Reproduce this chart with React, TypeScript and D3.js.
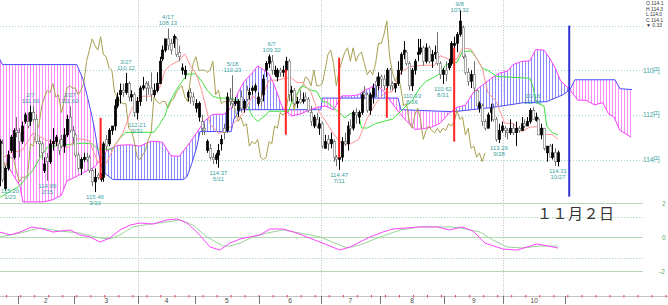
import React from "react";
import * as d3 from "d3";

const W = 668;
const H = 305;

// Daily candles [open, high, low, close], trading days Jan 23 – Oct 27
const candles: [number, number, number, number][] = [
  [114.6, 115.2, 113.1, 113.2], [113.3, 115.0, 113.1, 114.9], [115.3, 115.4, 114.3, 114.4], [114.4, 114.5, 113.6, 113.8],
  [113.6, 113.7, 112.9, 113.0], [113.9, 114.0, 112.6, 112.7], [112.7, 113.0, 112.1, 112.8],
  [112.8, 113.9, 112.6, 113.2], [113.2, 113.3, 112.3, 112.5], [112.3, 112.4, 111.9, 112.0], [112.3, 112.6, 111.9, 112.5],
  [112.3, 112.5, 111.59, 111.9], [111.9, 112.3, 111.6, 112.2], [112.2, 113.3, 112.0, 113.2], [113.2, 113.9, 113.0, 113.3],
  [113.3, 114.0, 113.2, 113.7], [114.5, 114.6, 113.9, 114.2], [113.9, 114.95, 113.7, 114.1], [114.1, 114.2, 113.1, 113.3],
  [113.3, 113.6, 112.6, 113.2], [113.2, 113.4, 112.9, 113.0], [113.3, 113.8, 113.1, 113.6], [113.1, 113.5, 112.9, 113.4],
  [113.4, 113.7, 112.6, 112.9], [112.9, 113.0, 112.0, 112.2], [112.1, 112.8, 111.62, 112.7], [112.7, 113.3, 112.5, 113.0],
  [112.9, 113.9, 112.8, 113.8], [113.8, 114.5, 113.7, 114.4], [114.4, 114.7, 113.9, 114.0], [114.0, 114.1, 113.7, 113.9],
  [113.9, 114.1, 113.7, 114.0], [113.9, 114.6, 113.8, 114.5], [114.5, 115.2, 114.4, 115.0], [115.0, 115.46, 114.4, 114.8],
  [114.7, 114.9, 114.6, 114.8], [114.9, 115.0, 114.6, 114.7], [114.8, 115.0, 113.2, 113.3], [113.1, 113.6, 112.9, 113.4],
  [113.3, 113.4, 112.6, 112.7], [112.7, 112.9, 112.5, 112.5], [112.5, 112.7, 111.3, 111.6], [111.6, 111.7, 111.0, 111.2],
  [111.1, 111.5, 110.6, 110.9], [110.9, 111.2, 110.6, 111.0], [111.0, 111.1, 110.12, 110.6], [110.6, 111.4, 110.5, 111.2],
  [111.2, 111.4, 110.9, 111.1], [111.1, 112.1, 111.0, 111.9], [111.9, 112.21, 111.2, 111.4],
  [111.4, 111.6, 110.7, 110.8], [110.8, 110.9, 110.3, 110.7], [110.6, 111.4, 110.5, 110.8], [110.7, 111.1, 110.5, 110.8],
  [110.8, 111.4, 110.1, 111.1], [111.1, 111.2, 110.6, 110.9], [110.9, 111.0, 110.1, 110.6], [110.6, 110.6, 109.4, 109.6],
  [109.5, 109.6, 108.9, 109.1], [109.1, 109.2, 108.6, 108.6], [108.6, 109.1, 108.13, 108.9], [108.8, 109.3, 108.6, 109.1],
  [108.8, 109.0, 108.4, 108.5], [108.6, 109.4, 108.5, 109.3], [109.2, 109.6, 108.9, 109.4], [110.0, 110.2, 109.7, 109.9],
  [110.2, 110.4, 109.8, 110.0], [111.2, 111.4, 110.9, 111.0], [111.0, 111.5, 110.8, 111.2], [111.2, 111.6, 111.0, 111.4],
  [111.7, 111.9, 111.3, 111.5], [112.1, 112.3, 111.4, 111.5], [112.3, 112.9, 112.0, 112.6], [112.6, 112.9, 112.4, 112.7],
  [113.6, 113.7, 113.1, 113.2], [113.5, 114.0, 113.3, 113.9], [113.9, 114.2, 113.7, 114.0], [114.0, 114.2, 113.7, 113.8],
  [113.8, 114.37, 113.3, 113.6], [113.3, 113.6, 112.9, 113.1], [112.6, 113.1, 112.4, 112.8], [112.7, 112.8, 111.0, 111.2],
  [111.3, 111.6, 110.8, 111.4], [111.4, 111.7, 110.23, 111.5], [111.5, 111.6, 111.2, 111.4], [111.8, 112.1, 111.3, 111.4],
  [111.2, 111.9, 110.9, 111.7], [111.7, 111.9, 111.3, 111.4], [110.9, 111.4, 110.7, 111.3], [111.1, 111.3, 110.8, 111.0],
  [110.9, 111.1, 110.7, 110.8], [110.9, 111.0, 110.6, 110.7], [111.5, 111.6, 111.0, 111.2],
  [111.3, 111.6, 110.9, 111.4], [111.1, 111.4, 110.2, 110.4], [110.0, 110.3, 109.6, 109.7], [109.7, 109.9, 109.3, 109.4],
  [109.6, 110.2, 109.32, 110.0], [110.2, 110.3, 109.8, 110.0], [110.3, 110.5, 109.9, 110.0], [110.0, 110.3, 109.9, 110.1],
  [110.1, 110.3, 109.8, 110.0], [110.0, 110.1, 109.4, 109.6], [109.6, 111.4, 109.5, 111.1], [111.0, 111.4, 110.7, 110.9],
  [110.9, 111.6, 110.8, 111.5], [111.5, 111.7, 111.2, 111.4], [111.3, 111.5, 110.9, 111.45], [111.4, 111.5, 111.0, 111.3],
  [111.2, 111.4, 111.0, 111.3], [111.3, 111.9, 111.2, 111.8], [111.9, 112.5, 111.6, 112.3], [112.5, 112.6, 112.0, 112.1],
  [112.2, 112.6, 111.9, 112.5], [112.6, 112.9, 112.1, 112.4],
  [112.4, 113.5, 112.3, 113.4], [113.5, 113.5, 112.9, 113.2], [113.1, 113.6, 112.9, 113.3], [113.3, 113.5, 112.8, 113.1],
  [113.2, 114.1, 113.1, 113.9], [113.9, 114.3, 113.8, 114.0], [114.0, 114.47, 113.7, 113.9], [113.9, 114.1, 113.0, 113.2],
  [113.2, 113.4, 112.8, 113.3], [113.3, 113.6, 112.3, 112.5], [112.5, 112.9, 112.2, 112.6], [112.6, 112.7, 111.8, 111.9],
  [111.9, 112.4, 111.7, 112.0], [112.1, 112.4, 111.8, 111.9], [111.9, 112.0, 111.0, 111.1], [111.0, 111.3, 110.7, 111.1],
  [111.1, 111.9, 111.0, 111.8], [111.8, 112.0, 111.0, 111.1], [111.2, 111.5, 110.6, 110.8], [110.5, 111.2, 110.3, 110.7],
  [110.7, 110.9, 110.1, 110.3],
  [110.3, 110.8, 110.2, 110.4], [110.4, 110.9, 110.2, 110.7], [110.7, 110.9, 109.9, 110.0], [110.0, 110.9, 109.9, 110.7],
  [110.6, 110.9, 110.5, 110.7], [110.8, 111.0, 110.6, 110.6], [110.6, 110.7, 109.6, 110.0], [110.0, 110.2, 109.2, 109.3],
  [109.3, 109.5, 108.7, 109.1], [109.2, 109.8, 109.1, 109.7], [109.7, 110.9, 109.6, 110.7], [110.7, 110.93, 109.9, 110.0],
  [110.0, 110.2, 109.5, 109.6], [109.3, 109.6, 108.6, 109.2], [109.2, 109.3, 108.6, 109.0], [109.0, 109.8, 108.9, 109.6],
  [109.6, 109.7, 108.8, 109.0], [109.0, 109.7, 108.9, 109.6], [109.6, 109.9, 109.1, 109.3], [109.3, 109.5, 108.9, 109.2],
  [109.2, 109.8, 108.3, 109.7], [109.7, 110.4, 109.6, 110.2], [110.2, 110.62, 109.9, 110.0],
  [110.0, 110.5, 109.6, 110.2], [109.9, 110.0, 109.5, 109.7], [109.7, 109.8, 108.7, 108.8], [108.9, 109.4, 108.5, 108.8],
  [108.8, 109.2, 108.3, 108.4], [108.4, 108.5, 107.32, 107.8], [108.1, 109.5, 108.0, 109.4], [109.4, 110.2, 109.3, 110.1],
  [110.1, 110.7, 109.9, 110.5], [110.5, 110.8, 110.0, 110.2], [110.2, 111.0, 109.6, 110.8], [110.9, 111.6, 110.9, 111.6],
  [111.7, 111.9, 111.4, 111.5], [111.6, 112.5, 111.5, 112.3], [112.3, 112.7, 112.2, 112.6], [112.6, 112.6, 111.9, 112.0],
  [111.9, 112.3, 111.5, 111.7], [111.7, 112.3, 111.5, 112.2], [112.2, 113.2, 112.1, 113.1], [113.1, 113.26, 112.4, 112.7],
  [112.7, 112.8, 112.3, 112.5],
  [112.6, 113.0, 112.5, 112.7], [112.7, 113.1, 112.6, 112.8], [112.8, 112.9, 112.2, 112.6], [112.6, 112.9, 112.4, 112.8],
  [112.8, 113.4, 112.3, 112.6], [112.6, 112.8, 112.5, 112.7], [112.7, 112.7, 112.1, 112.4], [112.4, 112.6, 112.2, 112.5],
  [112.5, 112.5, 112.1, 112.3], [112.3, 112.4, 111.7, 111.8], [111.8, 112.2, 111.66, 112.2], [112.25, 112.3, 111.9, 112.1],
  [112.2, 112.9, 112.1, 112.9], [112.9, 113.1, 112.4, 112.6], [112.6, 113.6, 112.6, 113.5], [113.7, 114.1, 113.4, 113.4],
  [113.4, 113.9, 113.3, 113.9], [113.9, 114.0, 113.3, 113.7], [113.7, 114.3, 113.5, 114.1], [114.1, 114.31, 113.6, 113.7],
];

// Ichimoku lines [bar index, price]
const tenkan: [number, number][] = [
  [0, 114.0], [4, 113.7], [8, 113.6], [12, 112.8], [16, 113.1], [20, 113.28], [24, 113.48], [28, 113.06], [32, 113.16],
  [35, 114.13], [38, 114.18], [41, 113.38], [44, 112.8], [47, 111.76], [50, 111.17], [54, 111.16], [57, 110.8], [59, 110.0],
  [61, 109.77], [64, 109.57], [66, 109.27], [68, 109.8], [70, 110.15], [72, 110.9], [75, 112.4], [78, 112.84], [81, 112.69],
  [84, 112.3], [87, 111.9], [90, 111.17], [93, 111.35], [96, 110.45], [99, 110.45], [102, 110.35], [104, 110.35],
  [106, 110.55], [108, 110.55], [111, 111.0], [113, 111.7], [116, 112.25], [119, 112.85], [122, 113.3], [125, 113.3],
  [128, 113.1], [131, 112.15], [134, 111.5], [137, 111.05], [140, 110.95], [143, 110.1], [146, 109.85], [149, 109.8],
  [152, 109.78], [155, 109.78], [157, 109.35], [160, 109.5], [163, 109.5], [165, 109.0], [168, 109.06], [170, 109.46],
  [172, 109.9], [174, 111.0], [177, 111.4], [180, 112.38], [183, 112.38], [186, 112.75], [189, 112.55], [192, 112.53],
  [195, 112.88], [197, 112.88], [199, 113.1],
];
const kijun: [number, number][] = [
  [0, 115.7], [7, 115.2], [12, 114.46], [14, 114.0], [17, 113.45], [22, 113.35], [27, 113.3], [30, 113.27], [33, 113.3],
  [35, 113.53], [40, 113.54], [43, 113.03], [45, 112.79], [55, 112.78], [57, 112.43], [59, 112.03], [60, 111.57],
  [63, 110.87], [65, 110.52], [67, 110.17], [70, 110.17], [72, 110.5], [74, 110.9], [76, 111.17], [78, 111.25],
  [82, 111.25], [86, 111.39], [88, 111.49], [90, 112.04], [92, 112.3], [95, 111.99], [96, 111.84], [103, 111.84],
  [104, 111.45], [105, 111.2], [106, 111.05], [108, 110.7], [111, 110.9], [113, 110.95], [115, 111.4], [117, 111.45],
  [119, 111.7], [121, 111.89], [123, 112.13], [125, 111.94], [128, 111.99], [129, 112.59], [131, 112.59], [134, 112.39],
  [137, 112.29], [140, 112.19], [143, 111.84], [145, 111.59], [147, 111.4], [148, 111.15], [150, 110.75], [152, 110.5],
  [155, 110.3], [157, 110.15], [159, 109.75], [163, 109.65], [165, 109.16], [168, 109.14], [170, 109.46], [172, 109.91],
  [174, 110.01], [177, 110.26], [178, 110.29], [189, 110.36], [190, 110.7], [191, 111.35], [192, 111.5], [194, 111.6],
  [195, 112.5], [197, 112.8], [199, 112.9],
];
const senkouA: [number, number][] = [
  [0, 114.0], [3, 114.3], [7.3, 115.2], [8.3, 115.9], [15.5, 115.9], [19, 115.8], [22, 115.6], [24, 114.95], [26, 114.85],
  [30, 114.58], [34, 114.33], [38, 113.63], [40, 113.48], [42, 113.37], [46, 113.34], [50, 113.4], [54, 113.18],
  [58, 113.22], [61, 113.83], [64, 113.86], [67, 113.38], [70, 112.85], [73, 112.28], [76, 111.98], [80, 111.97],
  [83, 111.62], [85, 111.0], [87, 110.53], [90, 110.13], [92, 109.81], [94, 109.98], [96, 110.16], [98, 110.7],
  [100, 111.4], [101, 111.72], [104, 112.05], [107, 111.97], [110, 111.81], [113, 111.67], [116, 111.6], [119, 111.78],
  [122, 111.15], [125, 111.15], [128, 111.1], [130, 110.9], [132, 110.8], [134, 110.63], [137, 110.95], [139, 111.33],
  [142, 111.84], [145, 112.28], [148, 112.65], [151, 112.62], [154, 112.55], [157, 112.37], [160, 111.95], [163, 111.67],
  [166, 111.57], [169, 110.97], [172, 110.68], [175, 110.38], [178, 110.14], [181, 110.04], [183, 109.75], [186, 109.61],
  [189, 109.58], [191, 109.08], [194, 109.1], [196, 109.46], [198, 109.9], [200, 110.5], [203, 110.83], [206, 111.34],
  [209, 111.35], [212, 111.55], [215, 111.46], [217, 111.95], [219, 112.1], [221, 112.69], [223, 112.84], [225, 113.0],
];
const senkouB: [number, number][] = [
  [0, 109.5], [1, 109.75], [27.5, 109.75], [29.7, 110.4], [31.5, 111.3], [32.9, 112.05], [34, 112.75], [35, 113.55],
  [35.8, 114.0], [36.8, 114.55], [40.4, 114.9], [65.4, 114.9], [66.8, 114.77], [68.6, 114.14], [70.3, 113.43],
  [71.4, 112.75], [82.5, 112.75], [83.5, 112.2], [85, 111.9], [86, 111.77], [114.5, 111.77], [115, 111.25], [142, 111.25],
  [143, 111.77], [161.6, 111.86], [174.8, 111.68], [181.9, 111.55], [186.5, 111.46], [195, 111.41], [200.8, 111.1],
  [203.3, 110.87], [205, 110.43], [219.3, 110.43], [221.1, 110.83], [225.4, 110.87],
];
const LAG = 26;

// lower oscillator panel
const oscMain: [number, number][] = [
  [0, 0.31], [3.7, 0.14], [7.3, 0.31], [11.5, 0.61], [15.5, 0.49], [19, 0.31], [25.1, 0.43], [28.6, 0.14], [32.2, 0.02],
  [35.8, -0.28], [39.3, -0.04], [42.9, 0.43], [46.5, 0.72], [50, 0.84], [54.7, 0.78], [59.7, 1.02], [63.2, 1.08],
  [66.8, 0.84], [70.3, 0.31], [75, -0.57], [78.5, -0.75], [82.1, -0.34], [85.7, -0.1], [89.2, 0.02], [92.8, 0.14],
  [96.4, 0.49], [101, 0.49], [106, 0.25], [109.5, 0.02], [114.2, -0.28], [117.7, -0.51], [121.3, -0.75], [124.9, -0.57],
  [128.4, -0.28], [132, 0.02], [136.6, 0.31], [140.2, 0.49], [145.2, 0.55], [149.8, 0.61], [155.9, 0.61], [160.5, 0.43],
  [164.8, 0.61], [168.7, 0.37], [173, -0.34], [179.4, -0.69], [184.4, -0.75], [191.5, -0.39], [199, -0.63],
];
const oscSignal: [number, number][] = [
  [0, 0.02], [7.3, 0.25], [14.4, 0.55], [21.5, 0.37], [28.6, 0.25], [35.8, -0.04], [39.3, -0.1], [42.9, 0.14],
  [47.5, 0.61], [53.6, 0.78], [59.7, 0.9], [64.3, 1.02], [68.9, 0.72], [73.9, 0.02], [79.6, -0.51], [82.1, -0.51],
  [85.7, -0.34], [90.3, 0.02], [95.3, 0.25], [101, 0.43], [107, 0.25], [114.2, 0.02], [123.8, -0.63], [128.4, -0.45],
  [135.6, 0.02], [142.7, 0.43], [149.8, 0.61], [154.5, 0.61], [160.5, 0.61], [164.1, 0.55], [171.2, 0.31],
  [175.8, -0.16], [180.8, -0.57], [186.5, -0.63], [192.6, -0.51], [199, -0.51],
];

const monthStarts = [6.5, 26.5, 49.5, 69.5, 92.5, 114.5, 135.5, 158.5, 179.5, 201.5];
const monthLabels = ["2", "3", "4", "5", "6", "7", "8", "9", "10"];
const quarterStarts = [49.5, 114.5, 179.5];
const priceTicks = [108, 110, 112, 114];
const priceTickLabels = ["", "110円", "112円", "114円"];
const oscSolid = [2, 0, -2];
const oscDotted = [1.2, -1.2];
const oscTickLabels = ["2", "0", "-2"];

const signalBars = [36, 102, 121, 138, 162];
const signalFrom = [112.13, 109.98, 109.44, 110.78, 108.99];
const signalTo = [114.86, 112.89, 113.92, 112.13, 113.2];
const todayBar = 203;
const todayRange = [108.0, 115.66];

const extremeBars = [0, 11, 17, 25, 34, 45, 49, 60, 78, 83, 97, 121, 147, 158, 164, 178, 190, 199];
const extremeDates = ["1/23", "2/7", "2/15", "2/27", "3/10", "3/27", "3/31", "4/17", "5/11", "5/18", "6/7", "7/11", "8/16", "8/31", "9/8", "9/28", "10/16", "10/27"];
const extremeTexts = ["115.20", "111.59", "114.95", "111.62", "115.46", "110.12", "112.21", "108.13", "114.37", "110.23", "109.32", "114.47", "110.93", "110.62", "107.32", "113.26", "111.66", "114.31"];
const extremeKinds = ["H", "L", "H", "L", "H", "L", "H", "L", "H", "L", "L", "H", "H", "H", "L", "H", "L", "H"];

const ohlcLines = ["O 114.1", "H 114.3", "L 114.0", "C 114.1", "▼ 0.33"];
const dateCaption = "１１月２日";

export default function App() {
  const x = d3.scaleLinear().domain([0, 238]).range([-0.4, -0.4 + 2.806 * 238]);
  const y = d3.scaleLinear().domain([108, 114]).range([25.5, 159.5]);
  const yo = d3.scaleLinear().domain([-2, 2]).range([271.3, 203.3]);

  const pline = d3.line<[number, number]>().x((d) => x(d[0])).y((d) => y(d[1]));
  const oline = d3.line<[number, number]>().x((d) => x(d[0])).y((d) => yo(d[1]));
  const toBottom = d3.area<[number, number]>().x((d) => x(d[0])).y0((d) => y(d[1])).y1(260);
  const fromTop = d3.area<[number, number]>().x((d) => x(d[0])).y0(-10).y1((d) => y(d[1]));

  const chikou: [number, number][] = candles.slice(LAG).map((c, j) => [j, c[3]]);
  const weekTicks = d3.range(2.5, 238, 5);
  const font = "'Liberation Sans', Arial, sans-serif";
  const teal = "#3d9f9f";

  return (
    <svg width={W} height={H} style={{ position: "absolute", left: 0, top: 0, background: "#fff" }}>
      <defs>
        <pattern id="hPink" patternUnits="userSpaceOnUse" width="3" height="6">
          <rect x="0" y="0" width="1" height="6" fill="#ff8cff" />
        </pattern>
        <pattern id="hBlue" patternUnits="userSpaceOnUse" width="3" height="6">
          <rect x="0" y="0" width="1" height="6" fill="#8c8cff" />
        </pattern>
        <clipPath id="aboveA"><path d={fromTop(senkouA) || ""} /></clipPath>
        <clipPath id="aboveB"><path d={fromTop(senkouB) || ""} /></clipPath>
        <clipPath id="upper"><rect x="0" y="0" width={W} height="206" /></clipPath>
      </defs>

      {/* quarter dotted verticals */}
      {quarterStarts.map((q, i) => (
        <line key={"q" + i} x1={Math.round(x(q)) + 0.5} x2={Math.round(x(q)) + 0.5} y1={0} y2={296}
          stroke="#bdbdbd" strokeDasharray="1,1.5" />
      ))}

      {/* price grid */}
      {priceTicks.map((p, i) => (
        <g key={"pg" + i}>
          <line x1={0} x2={645} y1={Math.round(y(p)) + 0.5} y2={Math.round(y(p)) + 0.5} stroke="#9fd0d0" strokeDasharray="1,2" />
          {priceTickLabels[i] && (
            <text x={643} y={y(p) + 2.5} fontSize={6.5} fill={teal} fontFamily={font}>{priceTickLabels[i]}</text>
          )}
        </g>
      ))}

      {/* oscillator grid */}
      {oscSolid.map((v, i) => (
        <g key={"os" + i}>
          <line x1={0} x2={643} y1={Math.round(yo(v)) + 0.5} y2={Math.round(yo(v)) + 0.5} stroke="#b4dab4" strokeWidth={1} />
          <text x={v < 0 ? 659 : 662} y={yo(v) + 2.5} fontSize={6.5} fill="#5aaa5a" fontFamily={font}>{oscTickLabels[i]}</text>
        </g>
      ))}
      {oscDotted.map((v, i) => (
        <line key={"od" + i} x1={0} x2={643} y1={Math.round(yo(v)) + 0.5} y2={Math.round(yo(v)) + 0.5}
          stroke="#b4dab4" strokeDasharray="1.5,1.5" />
      ))}

      <g clipPath="url(#upper)">
        {/* cloud hatching */}
        <path d={toBottom(senkouB) || ""} fill="url(#hPink)" clipPath="url(#aboveA)" />
        <path d={toBottom(senkouA) || ""} fill="url(#hBlue)" clipPath="url(#aboveB)" />
        <path d={pline(senkouB) || ""} fill="none" stroke="#4b4bff" strokeWidth={1} />
        <path d={pline(senkouA) || ""} fill="none" stroke="#ff3cff" strokeWidth={1} />
        <path d={pline(chikou) || ""} fill="none" stroke="#a8a050" strokeWidth={1} />
        <path d={pline(kijun) || ""} fill="none" stroke="#3ee03e" strokeWidth={1} />
        <path d={pline(tenkan) || ""} fill="none" stroke="#ff9494" strokeWidth={1} />

        {/* candles */}
        {candles.map((c, i) => {
          const [o, h, l, cl] = c;
          const up = cl >= o;
          const cx = Math.round(x(i)) + 0.5;
          const top = Math.min(y(o), y(cl));
          const ht = Math.max(1, Math.abs(y(o) - y(cl)));
          const col = up ? "#6e6e6e" : "#000";
          return (
            <g key={"c" + i}>
              <line x1={cx} x2={cx} y1={y(h)} y2={y(l)} stroke={col} strokeWidth={1} />
              <rect x={cx - 1.2} y={top} width={2.4} height={ht} fill={up ? "#fff" : "#000"} stroke={col} strokeWidth={0.6} />
            </g>
          );
        })}

        {/* signal lines */}
        {signalBars.map((b, i) => (
          <line key={"s" + i} x1={x(b)} x2={x(b)} y1={y(signalFrom[i])} y2={y(signalTo[i])} stroke="#ff2222" strokeWidth={2} />
        ))}
      </g>

      {/* today line */}
      <line x1={x(todayBar)} x2={x(todayBar)} y1={y(todayRange[0])} y2={y(todayRange[1])} stroke="#3030d0" strokeWidth={2} />

      {/* extreme labels */}
      {extremeBars.map((b, i) => {
        const c = candles[b];
        const isLow = extremeKinds[i] === "L";
        const py = isLow ? y(c[2]) : y(c[1]);
        let priceY = isLow ? py - 3 : py + 7;
        let dateY = isLow ? priceY - 6 : priceY + 6;
        if (isLow && dateY < 6) { const s = 6 - dateY; dateY += s; priceY += s; }
        const lx = Math.max(x(b), 10);
        return (
          <g key={"e" + i} fontSize={6} fill={teal} fontFamily={font} textAnchor="middle">
            <text x={lx} y={dateY}>{extremeDates[i]}</text>
            <text x={lx} y={priceY}>{extremeTexts[i]}</text>
          </g>
        );
      })}

      {/* oscillator lines */}
      <path d={oline(oscSignal) || ""} fill="none" stroke="#9ad49a" strokeWidth={1} />
      <path d={oline(oscMain) || ""} fill="none" stroke="#ff44ff" strokeWidth={1} />

      {/* date caption */}
      <text x={537} y={219} fontSize={15} fill="#333" fontFamily="'Noto Sans CJK JP', sans-serif" letterSpacing={0.5}>{dateCaption}</text>

      {/* OHLC box */}
      {ohlcLines.map((t, i) => (
        <text key={"o" + i} x={646} y={5 + i * 5.6} fontSize={5} fill="#333" fontFamily={font}>{t}</text>
      ))}

      {/* time axis */}
      <line x1={0} x2={W} y1={296.5} y2={296.5} stroke="#c4c4c4" />
      {weekTicks.map((w, i) => (
        <line key={"w" + i} x1={x(w)} x2={x(w)} y1={295} y2={297.5} stroke="#ee4444" strokeWidth={1} />
      ))}
      {monthStarts.map((m, i) => (
        <line key={"m" + i} x1={Math.round(x(m)) + 0.5} x2={Math.round(x(m)) + 0.5} y1={296} y2={304} stroke="#777" />
      ))}
      {monthLabels.map((t, i) => (
        <text key={"ml" + i} x={(x(monthStarts[i]) + x(monthStarts[i + 1])) / 2} y={303} fontSize={6.5}
          textAnchor="middle" fill="#444" fontFamily={font}>{t}</text>
      ))}
    </svg>
  );
}
